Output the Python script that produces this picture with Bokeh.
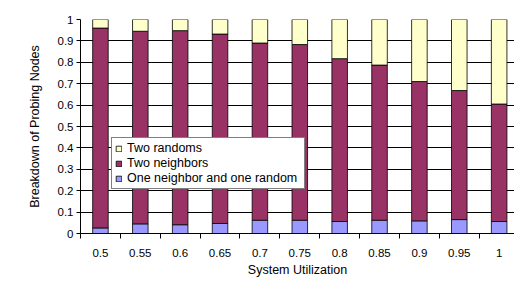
from bokeh.plotting import figure
from bokeh.models import (FixedTicker, NumeralTickFormatter, Legend, LegendItem, Range1d,
                          ColumnDataSource, Label)
from bokeh.embed import file_html
from bokeh.resources import INLINE

categories = ["0.5", "0.55", "0.6", "0.65", "0.7", "0.75", "0.8", "0.85", "0.9", "0.95", "1"]
one_neighbor_one_random = [0.026, 0.045, 0.041, 0.047, 0.062, 0.062, 0.056, 0.062, 0.059, 0.065, 0.056]
two_neighbors = [0.934, 0.900, 0.907, 0.885, 0.828, 0.821, 0.761, 0.725, 0.651, 0.603, 0.549]
two_randoms = [0.040, 0.055, 0.052, 0.068, 0.110, 0.117, 0.183, 0.213, 0.290, 0.332, 0.395]
series_names = ["One neighbor and one random", "Two neighbors", "Two randoms"]
series_colors = ["#9999FF", "#993366", "#FFFFCC"]

FONT = "Liberation Sans"
W, H = 514, 288

xpos = [i + 0.5 for i in range(len(categories))]
src = ColumnDataSource(dict(x=xpos, a=one_neighbor_one_random, b=two_neighbors, c=two_randoms))

p = figure(width=W, height=H, output_backend="svg", toolbar_location=None,
           x_range=Range1d(0, 10.885), y_range=Range1d(0, 1),
           min_border_left=80, min_border_top=19, min_border_right=0, min_border_bottom=55)
p.frame_width = 434
p.frame_height = 214
p.outline_line_color = None
p.background_fill_color = "white"
p.border_fill_color = "white"

# outer chart-area border (left and top edges visible; right/bottom fall outside)
border = Label(x=12.5, y=H - 4.5, x_units="canvas", y_units="canvas", text=" ",
               anchor="top_left", text_font_size="1px",
               padding=dict(left=0, right=1000, top=0, bottom=1000),
               border_line_color="#333333", border_line_width=1,
               background_fill_color=None)
p.add_layout(border)

renderers = p.vbar_stack(["a", "b", "c"], x="x", width=0.39, source=src,
                         color=series_colors, line_color="black", line_width=0.8)

xa = p.xaxis[0]
xa.ticker = FixedTicker(ticks=xpos, minor_ticks=list(range(len(categories) + 1)))
xa.major_label_overrides = {x: c for x, c in zip(xpos, categories)}
xa.major_tick_out = 0
xa.major_tick_in = 0
xa.minor_tick_out = 5
xa.minor_tick_in = 0
xa.minor_tick_line_color = "black"
xa.axis_line_color = "black"
xa.major_label_standoff = 10
xa.axis_label = "System Utilization"
xa.axis_label_standoff = 3

ya = p.yaxis[0]
ya.ticker = FixedTicker(ticks=[i / 10 for i in range(11)])
ya.formatter = NumeralTickFormatter(format="0[.]0")
ya.major_tick_out = 4
ya.major_tick_in = 0
ya.minor_tick_out = 0
ya.major_tick_line_color = "black"
ya.axis_line_color = "black"
ya.major_label_standoff = 3
ya.axis_label = "Breakdown of Probing Nodes"
ya.axis_label_standoff = 13

for ax in (xa, ya):
    ax.major_label_text_font = FONT
    ax.major_label_text_font_size = "11.5px"
    ax.major_label_text_color = "black"
    ax.axis_label_text_font = FONT
    ax.axis_label_text_font_size = "12.5px"
    ax.axis_label_text_font_style = "normal"
    ax.axis_label_text_color = "black"

p.xgrid.grid_line_color = None
p.ygrid.grid_line_color = "black"
p.ygrid.grid_line_alpha = 1
p.ygrid.ticker = FixedTicker(ticks=[i / 10 for i in range(11)])

items = [LegendItem(label=series_names[2], renderers=[renderers[2]]),
         LegendItem(label=series_names[1], renderers=[renderers[1]]),
         LegendItem(label=series_names[0], renderers=[renderers[0]])]
legend = Legend(items=items, location=(31, 44), orientation="vertical")
legend.border_line_color = "black"
legend.border_line_width = 1
legend.background_fill_color = "white"
legend.background_fill_alpha = 1
legend.label_text_font = FONT
legend.label_text_font_size = "12.5px"
legend.label_text_color = "black"
legend.glyph_width = 7
legend.glyph_height = 7
legend.label_standoff = 5
legend.label_height = 12
legend.spacing = 1
legend.padding = 3
legend.margin = 0
legend.label_width = 174
p.add_layout(legend, "center")

html = file_html(p, INLINE)
open("out.html", "w").write(html)
